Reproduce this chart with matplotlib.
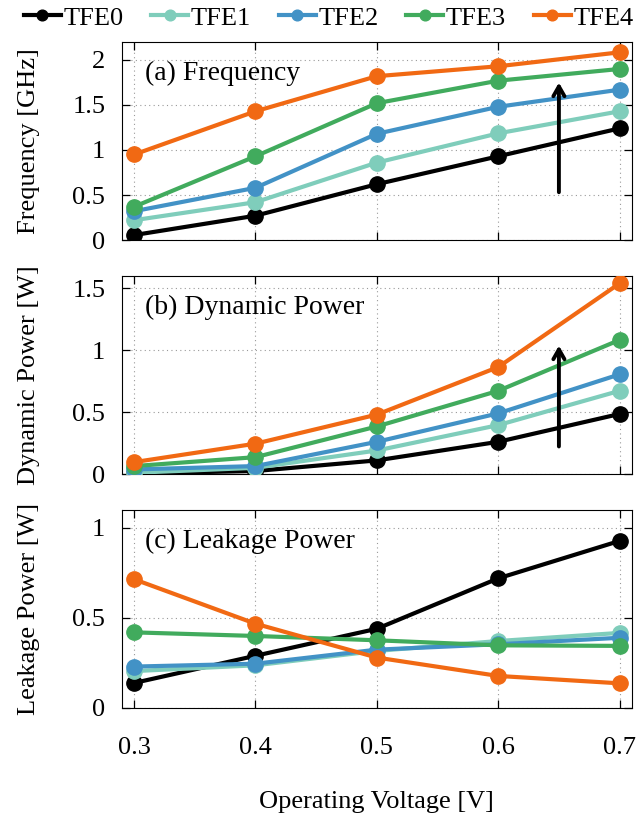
import matplotlib
matplotlib.use("Agg")
import matplotlib.pyplot as plt

plt.rcParams['font.family'] = ['Liberation Serif', 'DejaVu Serif']
plt.rcParams['mathtext.fontset'] = 'stix'

volts = [0.3, 0.4, 0.5, 0.6, 0.7]
names = ["TFE0", "TFE1", "TFE2", "TFE3", "TFE4"]
colors = ["#000000", "#7fcdbb", "#4292c6", "#41ab5d", "#f16913"]

freq = [
	[0.055, 0.27, 0.62, 0.93, 1.24],
	[0.22, 0.42, 0.86, 1.185, 1.43],
	[0.32, 0.58, 1.18, 1.48, 1.67],
	[0.37, 0.93, 1.52, 1.77, 1.90],
	[0.95, 1.43, 1.82, 1.93, 2.085],
]
dyn = [
	[0.005, 0.024, 0.11, 0.26, 0.485],
	[0.01, 0.05, 0.19, 0.395, 0.672],
	[0.037, 0.064, 0.26, 0.49, 0.805],
	[0.064, 0.136, 0.384, 0.672, 1.083],
	[0.096, 0.245, 0.48, 0.864, 1.54],
]
leak = [
	[0.139, 0.29, 0.44, 0.72, 0.928],
	[0.205, 0.237, 0.317, 0.372, 0.417],
	[0.23, 0.246, 0.324, 0.354, 0.39],
	[0.42, 0.40, 0.376, 0.348, 0.345],
	[0.715, 0.468, 0.28, 0.178, 0.137],
]

panels = [
	("(a) Frequency", "Frequency [GHz]", freq, 2.2, [0, 0.5, 1, 1.5, 2], ["0", "0.5", "1", "1.5", "2"], (0.65, 0.5, 1.78)),
	("(b) Dynamic Power", "Dynamic Power [W]", dyn, 1.6, [0, 0.5, 1, 1.5], ["0", "0.5", "1", "1.5"], (0.65, 0.2, 1.06)),
	("(c) Leakage Power", "Leakage Power [W]", leak, 1.1, [0, 0.5, 1], ["0", "0.5", "1"], None),
]

fig = plt.figure(figsize=(6.42, 8.15), dpi=100)
bottoms = [0.7055, 0.4184, 0.1313]
axes = []
for k, (title, ylab, data, ytop, yt, ytl, arrow) in enumerate(panels):
	ax = fig.add_axes([0.19, bottoms[k], 0.794, 0.243])
	axes.append(ax)
	for i in range(5):
		ax.plot(volts, data[i], color=colors[i], lw=3, marker='o', ms=11, label=names[i], zorder=3)
	ax.set_xlim(0.29, 0.71)
	ax.set_ylim(0, ytop)
	ax.set_yticks(yt)
	ax.set_yticklabels(ytl)
	ax.set_xticks(volts)
	ax.grid(True, linestyle=(0, (1, 3)), color='#999999', lw=0.8)
	ax.tick_params(direction='in', top=True, right=True, length=6, width=0.9, labelsize=19)
	ax.tick_params(axis='y', pad=12)
	ax.set_ylabel(ylab, fontsize=19)
	ax.yaxis.set_label_coords(-0.16, 0.5)
	ax.text(0.045, 0.84, title, transform=ax.transAxes, fontsize=20, va='center', ha='left')
	if arrow is not None:
		ax.annotate("", xy=(arrow[0], arrow[2]), xytext=(arrow[0], arrow[1]),
			arrowprops=dict(arrowstyle='->,head_length=0.7,head_width=0.4', lw=2.8, color='black'), zorder=4)
	if k < 2:
		ax.tick_params(axis='x', labelbottom=False)
	else:
		ax.set_xticklabels(["0.3", "0.4", "0.5", "0.6", "0.7"])
		ax.tick_params(axis='x', pad=21)
		ax.set_xlabel("Operating Voltage [V]", fontsize=19)
		ax.xaxis.set_label_coords(0.5, -0.42)

h, l = axes[0].get_legend_handles_labels()
fig.legend(h, l, loc='center', bbox_to_anchor=(0.512, 0.978), ncol=5, frameon=False,
	fontsize=19, handlelength=1.4, handletextpad=0.1, columnspacing=1.05, markerscale=0.7)

fig.savefig("out.png", dpi=100)
